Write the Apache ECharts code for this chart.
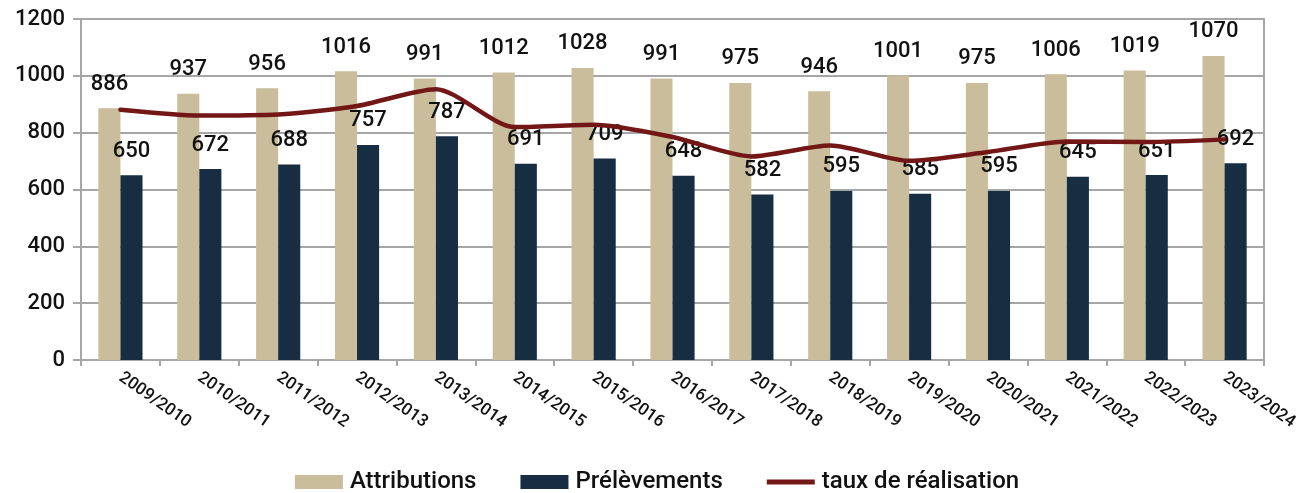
<!DOCTYPE html>
<html>
<head>
<meta charset="utf-8">
<script src="https://cdn.jsdelivr.net/npm/echarts@6/dist/echarts.min.js"></script>
<style>
  html, body { margin: 0; padding: 0; background: #fff; }
  #chart { width: 1314px; height: 493px; }
</style>
</head>
<body>
<div id="chart"></div>
<script>
// saisons
const seasons = ['2009/2010', '2010/2011', '2011/2012', '2012/2013', '2013/2014',
  '2014/2015', '2015/2016', '2016/2017', '2017/2018', '2018/2019',
  '2019/2020', '2020/2021', '2021/2022', '2022/2023', '2023/2024']
const attributions = [886, 937, 956, 1016, 991, 1012, 1028, 991, 975, 946, 1001, 975, 1006, 1019, 1070]
const prelevements = [650, 672, 688, 757, 787, 691, 709, 648, 582, 595, 585, 595, 645, 651, 692]
// taux de réalisation en %, axe secondaire caché
const taux = [73.4, 71.7, 72.0, 74.5, 79.4, 68.3, 69.0, 65.4, 59.7, 62.9, 58.4, 61.0, 64.1, 63.9, 64.7]
const yTicks = [0, 200, 400, 600, 800, 1000, 1200]

const font = 'Roboto'
const grey = '#a6a6a6'

const myChart = echarts.init(document.getElementById('chart'))

const barLabel = {
  show: true,
  position: 'top',
  distance: 13,
  color: '#111',
  fontFamily: font,
  fontWeight: 500,
  fontSize: 22
}

myChart.setOption({
  animation: false,
  grid: {
    left: 81, right: 50, top: 19, bottom: 133,
    show: true, borderColor: grey, borderWidth: 2
  },
  legend: {
    top: 465,
    left: 'center',
    itemWidth: 48,
    itemHeight: 14,
    itemGap: 44,
    textStyle: { fontFamily: font, fontWeight: 500, fontSize: 24, color: '#111', padding: [0, 0, 0, 2] },
    data: [
      { name: 'Attributions', icon: 'rect' },
      { name: 'Prélèvements', icon: 'rect' },
      { name: 'taux de réalisation', icon: 'path://M0,0 L48,0 L48,5 L0,5 Z' }
    ]
  },
  xAxis: {
    type: 'category',
    data: seasons,
    axisLine: { lineStyle: { color: grey, width: 2 } },
    axisTick: { show: true, length: 6, lineStyle: { color: grey, width: 2 } },
    axisLabel: {
      rotate: -35,
      margin: 16,
      color: '#111',
      fontFamily: font,
      fontWeight: 500,
      fontSize: 17
    }
  },
  yAxis: [{
    type: 'value',
    min: yTicks[0],
    max: yTicks[yTicks.length - 1],
    interval: 200,
    axisLine: { show: true, lineStyle: { color: grey, width: 2 } },
    axisTick: { show: true, length: 8, lineStyle: { color: grey, width: 2 } },
    splitLine: { lineStyle: { color: grey, width: 2 } },
    axisLabel: {
      margin: 16, color: '#111', fontFamily: font, fontWeight: 500, fontSize: 22,
      formatter: (v) => String(v)
    }
  }, {
    type: 'value',
    min: 0,
    max: 100,
    show: false,
    splitLine: { show: false }
  }],
  series: [{
    name: 'Attributions',
    type: 'bar',
    data: attributions,
    barWidth: '28%',
    barGap: '0%',
    itemStyle: { color: '#c9bd9c' },
    label: barLabel
  }, {
    name: 'Prélèvements',
    type: 'bar',
    data: prelevements,
    barWidth: '28%',
    itemStyle: { color: '#172d42' },
    label: barLabel
  }, {
    name: 'taux de réalisation',
    type: 'line',
    yAxisIndex: 1,
    data: taux,
    smooth: 0.25,
    showSymbol: false,
    symbol: 'none',
    lineStyle: { color: '#721616', width: 4.5, cap: 'round' },
    itemStyle: { color: '#721616' }
  }]
})
</script>
</body>
</html>
